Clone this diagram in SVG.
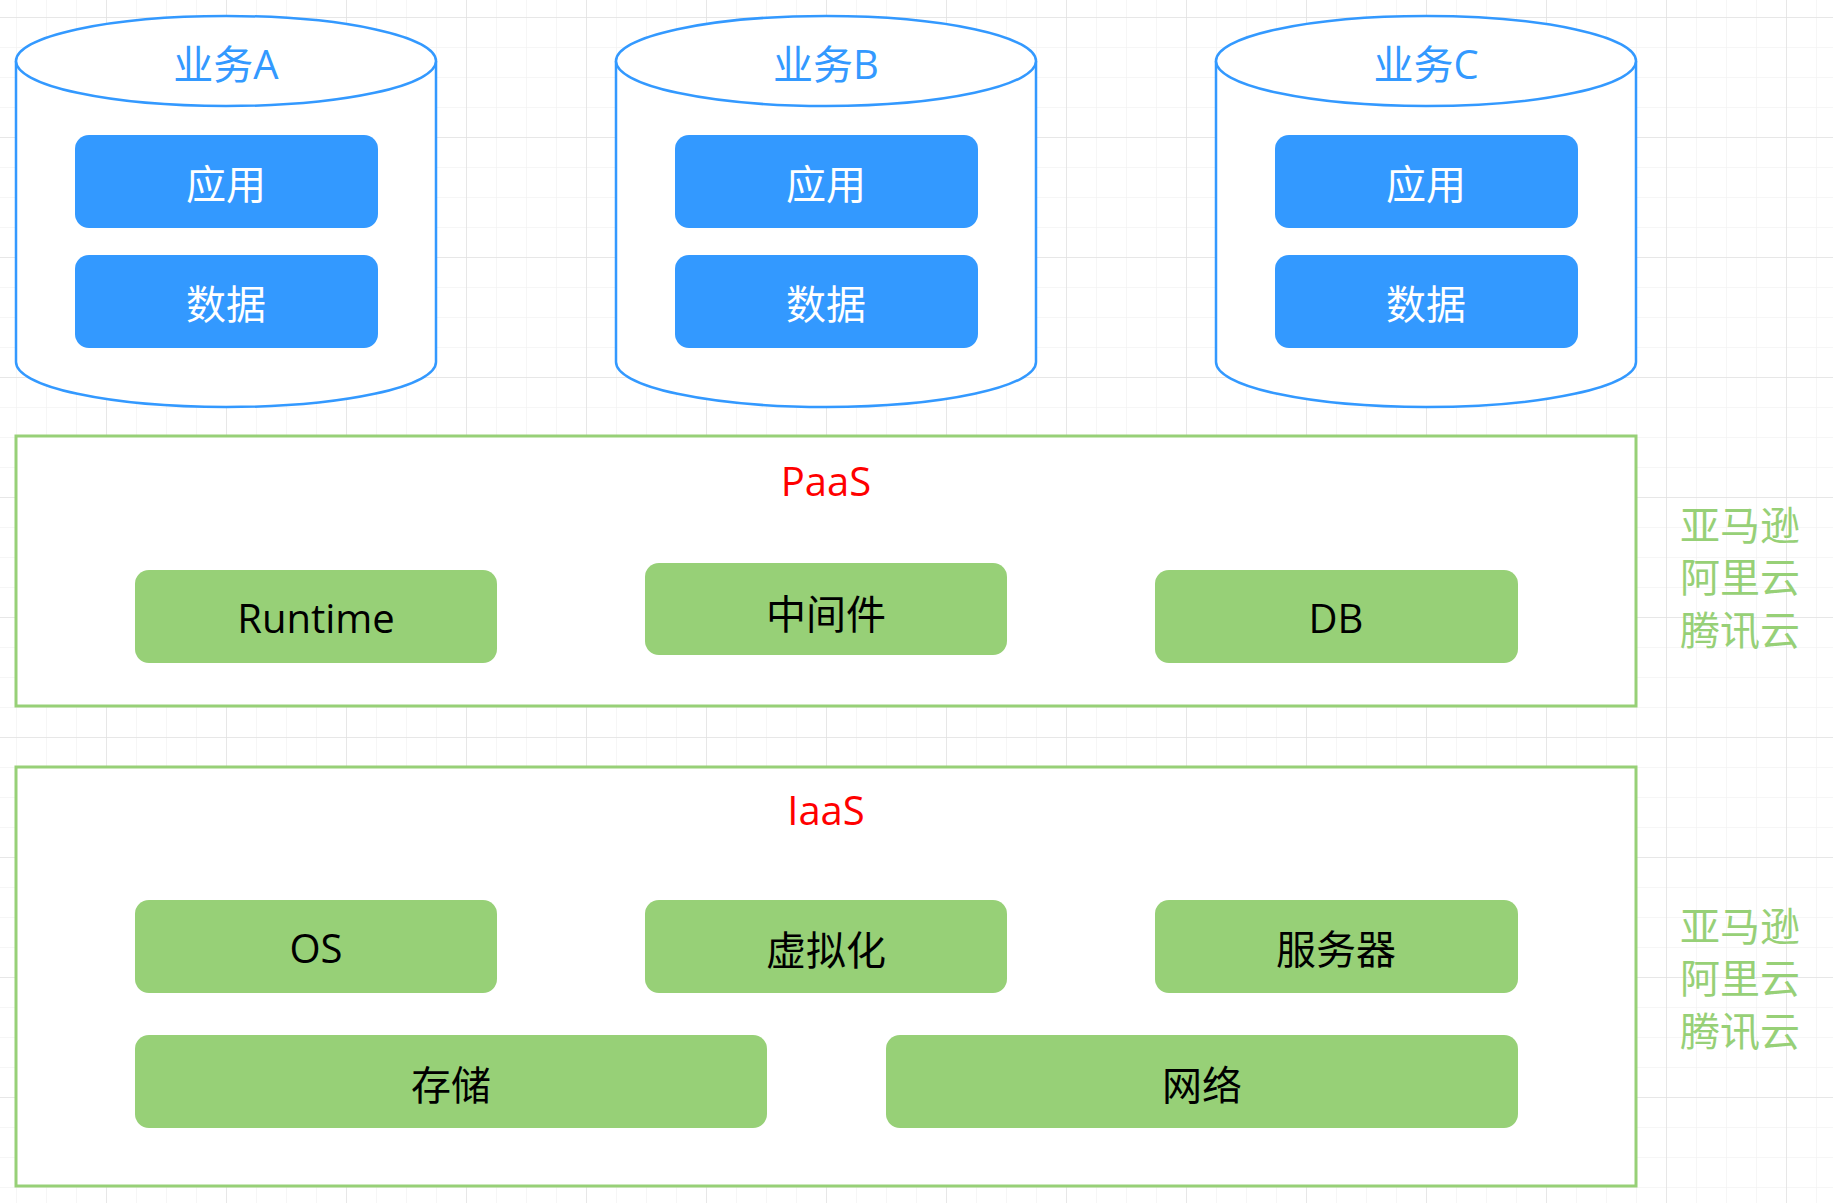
<svg xmlns="http://www.w3.org/2000/svg" width="1833" height="1203" viewBox="0 0 1833 1203">
<style>
text{font-family:"Open Sans","Noto Sans CJK SC",sans-serif;font-size:40px;text-anchor:middle}
.cyl{fill:#fff;stroke:#3399FF;stroke-width:2.5}
.blue{fill:#3399FF}
.wt{fill:#fff}
.bt{fill:#3399FF}
.layer{fill:#fff;stroke:#97D077;stroke-width:3}
.green{fill:#97D077}
.dark{fill:#000}
.red{fill:#FF0000}
.side{fill:#97D077}
</style>
<defs>
<pattern id="minor" x="16" y="17" width="30" height="30" patternUnits="userSpaceOnUse">
<path d="M0,0 V30 M0,0 H30" stroke="#f3f3f3" stroke-width="1.5" fill="none"/>
</pattern>
<pattern id="major" x="106" y="17" width="120" height="120" patternUnits="userSpaceOnUse">
<path d="M0,0 V120 M0,0 H120" stroke="#e2e2e2" stroke-width="1.5" fill="none"/>
</pattern>
</defs>
<rect width="1833" height="1203" fill="#fff"/>
<rect width="1833" height="1203" fill="url(#minor)"/>
<rect width="1833" height="1203" fill="url(#major)"/>

<g id="bizA">
<path class="cyl" d="M16,61 A210,45 0 0 1 436,61 L436,362 A210,45 0 0 1 16,362 Z"/>
<path class="cyl" fill="none" d="M16,61 A210,45 0 0 0 436,61"/>
<text class="bt" x="226" y="79">业务A</text>
<rect class="blue" x="75" y="135" width="303" height="93" rx="14"/>
<text class="wt" x="226" y="199">应用</text>
<rect class="blue" x="75" y="255" width="303" height="93" rx="14"/>
<text class="wt" x="226" y="319">数据</text>
</g>
<g id="bizB">
<path class="cyl" d="M616,61 A210,45 0 0 1 1036,61 L1036,362 A210,45 0 0 1 616,362 Z"/>
<path class="cyl" fill="none" d="M616,61 A210,45 0 0 0 1036,61"/>
<text class="bt" x="826" y="79">业务B</text>
<rect class="blue" x="675" y="135" width="303" height="93" rx="14"/>
<text class="wt" x="826" y="199">应用</text>
<rect class="blue" x="675" y="255" width="303" height="93" rx="14"/>
<text class="wt" x="826" y="319">数据</text>
</g>
<g id="bizC">
<path class="cyl" d="M1216,61 A210,45 0 0 1 1636,61 L1636,362 A210,45 0 0 1 1216,362 Z"/>
<path class="cyl" fill="none" d="M1216,61 A210,45 0 0 0 1636,61"/>
<text class="bt" x="1426" y="79">业务C</text>
<rect class="blue" x="1275" y="135" width="303" height="93" rx="14"/>
<text class="wt" x="1426" y="199">应用</text>
<rect class="blue" x="1275" y="255" width="303" height="93" rx="14"/>
<text class="wt" x="1426" y="319">数据</text>
</g>

<g id="paas">
<rect class="layer" x="16" y="436" width="1620" height="270"/>
<text class="red" x="826" y="496">PaaS</text>
</g>
<g id="runtime">
<rect class="green" x="135" y="570" width="362" height="93" rx="14"/>
<text class="dark" x="316" y="633">Runtime</text>
</g>
<g id="middleware">
<rect class="green" x="645" y="563" width="362" height="92" rx="14"/>
<text class="dark" x="826" y="629">中间件</text>
</g>
<g id="db">
<rect class="green" x="1155" y="570" width="363" height="93" rx="14"/>
<text class="dark" x="1336" y="633">DB</text>
</g>
<g id="paasVendors">
<text class="side" x="1740" y="540">亚马逊</text>
<text class="side" x="1740" y="592">阿里云</text>
<text class="side" x="1740" y="645">腾讯云</text>
</g>

<g id="iaas">
<rect class="layer" x="16" y="767" width="1620" height="419"/>
<text class="red" x="826" y="825">IaaS</text>
</g>
<g id="os">
<rect class="green" x="135" y="900" width="362" height="93" rx="14"/>
<text class="dark" x="316" y="963">OS</text>
</g>
<g id="virtualization">
<rect class="green" x="645" y="900" width="362" height="93" rx="14"/>
<text class="dark" x="826" y="965">虚拟化</text>
</g>
<g id="server">
<rect class="green" x="1155" y="900" width="363" height="93" rx="14"/>
<text class="dark" x="1336" y="964">服务器</text>
</g>
<g id="storage">
<rect class="green" x="135" y="1035" width="632" height="93" rx="14"/>
<text class="dark" x="451" y="1100">存储</text>
</g>
<g id="network">
<rect class="green" x="886" y="1035" width="632" height="93" rx="14"/>
<text class="dark" x="1202" y="1100">网络</text>
</g>
<g id="iaasVendors">
<text class="side" x="1740" y="941">亚马逊</text>
<text class="side" x="1740" y="993">阿里云</text>
<text class="side" x="1740" y="1046">腾讯云</text>
</g>

<g id="connectors"/>
</svg>
